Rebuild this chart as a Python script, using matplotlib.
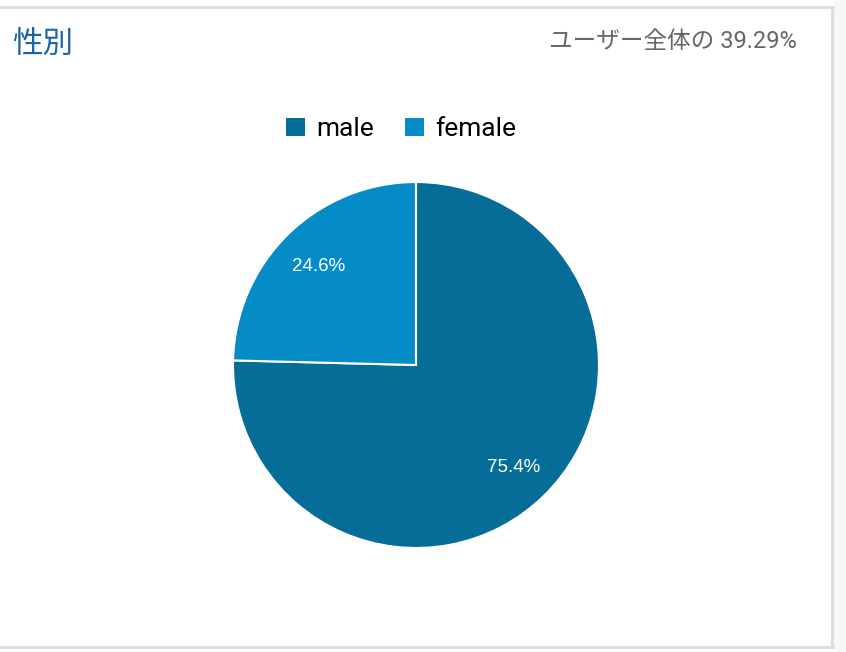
import matplotlib.pyplot as plt
from matplotlib.patches import Patch, Rectangle
from matplotlib.lines import Line2D

plt.rcParams['font.family'] = ['Roboto', 'Noto Sans CJK JP', 'DejaVu Sans']

labels = ["male", "female"]
shares = [75.4, 24.6]
colors = ["#066c98", "#058bc6"]
title = "性別"
subtitle = "ユーザー全体の 39.29%"

W, H = 846, 652
fig = plt.figure(figsize=(W / 100, H / 100), dpi=100)
fig.patch.set_facecolor("white")

# card border and grey strip on the right
fig.add_artist(Rectangle((834 / W, 0), 1, 1, transform=fig.transFigure,
                         color="#f7f8f9", zorder=0))
for xs, ys in [((0, 833), (7, 7)), ((832, 832), (7, 647)), ((0, 833), (647, 647))]:
    fig.add_artist(Line2D([x / W for x in xs], [1 - y / H for y in ys],
                          transform=fig.transFigure, color="#dcdcdc", lw=2))

fig.text(12 / W, 1 - 44 / H, title, fontsize=22, color="#1c63a8",
         va="center", ha="left", family=['Noto Sans CJK JP'])
fig.text(797 / W, 1 - 41 / H, subtitle, fontsize=17, color="#666666",
         va="center", ha="right")

# pie, center (416, 365) px, radius 183 px
r = 183
ax = fig.add_axes([(416 - r) / W, (H - 365 - r) / H, 2 * r / W, 2 * r / H])
wedges, texts = ax.pie(shares, colors=colors, startangle=90, counterclock=False,
                       labels=[f"{s:.1f}%" for s in shares], labeldistance=0.765,
                       wedgeprops=dict(edgecolor="white", linewidth=1.5),
                       textprops=dict(color="white", fontsize=13.5,
                                      family=['Liberation Sans']))
for t in texts:
    t.set_ha("center")
    t.set_va("center_baseline")
ax.set_xlim(-1, 1)
ax.set_ylim(-1, 1)
ax.set_aspect("equal")
ax.axis("off")

handles = [Patch(facecolor=c, edgecolor="none", label=l) for c, l in zip(colors, labels)]
fig.legend(handles=handles, loc="center", bbox_to_anchor=(401 / W, 1 - 129 / H),
           ncol=2, frameon=False, fontsize=19, handlelength=0.7, handleheight=0.7,
           handletextpad=0.42, columnspacing=1.2)

fig.savefig("out.png", dpi=100)
